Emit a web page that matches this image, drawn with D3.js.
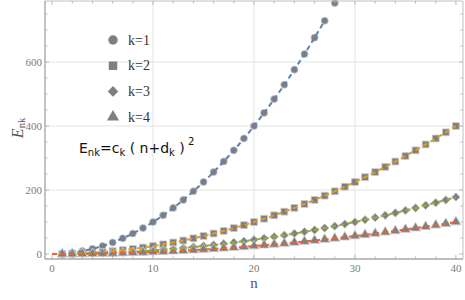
<!DOCTYPE html>
<html><head><meta charset="utf-8">
<script src="https://cdn.jsdelivr.net/npm/d3@7"></script>
<style>body{margin:0;background:#fff}svg{display:block}</style>
</head><body><svg id="c" width="465" height="300"></svg>
<script>
const nK1 = [1,2,3,4,5,6,7,8,9,10,11,12,13,14,15,16,17,18,19,20,21,22,23,24,25,26,27,28];
const eK1 = [1,4,9,16,25,36,49,64,81,100,121,144,169,196,225,256,289,324,361,400,441,484,529,576,625,676,729,784];
const nK = [1,2,3,4,5,6,7,8,9,10,11,12,13,14,15,16,17,18,19,20,21,22,23,24,25,26,27,28,29,30,31,32,33,34,35,36,37,38,39,40];
const eK2 = [0.25,1,2.25,4,6.25,9,12.25,16,20.25,25,30.25,36,42.25,49,56.25,64,72.25,81,90.25,100,110.25,121,132.25,144,156.25,169,182.25,196,210.25,225,240.25,256,272.25,289,306.25,324,342.25,361,380.25,400];
const eK3 = [0.11,0.44,1,1.78,2.78,4,5.44,7.11,9,11.11,13.44,16,18.78,21.78,25,28.44,32.11,36,40.11,44.44,49,53.78,58.78,64,69.44,75.11,81,87.11,93.44,100,106.78,113.78,121,128.44,136.11,144,152.11,160.44,169,177.78];
const eK4 = [0.06,0.25,0.56,1,1.56,2.25,3.06,4,5.06,6.25,7.56,9,10.56,12.25,14.06,16,18.06,20.25,22.56,25,27.56,30.25,33.06,36,39.06,42.25,45.56,49,52.56,56.25,60.06,64,68.06,72.25,76.56,81,85.56,90.25,95.06,100];
const fitC = [1, 0.25, 0.1111, 0.0625];
const fitD = [0, 0, 0, 0];
const fitMax = [27, 40, 40, 40];
const seriesNames = ["k=1","k=2","k=3","k=4"];
const xTicks = [0,10,20,30,40];
const yTicks = [0,200,400,600];

const colors = ["#5E81B5","#E19C24","#8FB032","#EB6235"];
const symbols = [d3.symbolCircle, d3.symbolSquare, d3.symbolSquare, d3.symbolTriangle];
const rotations = [0, 0, 45, 0];
const symSize = [40, 46, 36, 42];
const legSize = [70, 72, 56, 64];

const svg = d3.select("#c");
const L=45, R=463, T=1, B=259;
const x = d3.scaleLinear().domain([-0.7,40.7]).range([L,R]);
const y = d3.scaleLinear().domain([-15.6,790.6]).range([B,T]);

// grid
const g = svg.append("g");
[10,20,30].forEach(v=>g.append("line").attr("x1",x(v)).attr("x2",x(v)).attr("y1",T).attr("y2",B).attr("stroke","#e4e4e4").attr("stroke-width",1));
[200,400,600].forEach(v=>g.append("line").attr("y1",y(v)).attr("y2",y(v)).attr("x1",L).attr("x2",R).attr("stroke","#e4e4e4").attr("stroke-width",1));

// points
const data = [ [nK1,eK1],[nK,eK2],[nK,eK3],[nK,eK4] ];
data.forEach(([ns,es],i)=>{
  svg.append("g").selectAll("path").data(ns).join("path")
    .attr("d", d3.symbol(symbols[i], symSize[i]))
    .attr("transform",(n,j)=>`translate(${x(n)},${y(es[j])}) rotate(${rotations[i]})`)
    .attr("fill","#7f7f7f").attr("stroke","#c9c9c9").attr("stroke-width",0.8);
});

// fit lines
const line = d3.line().x(d=>x(d[0])).y(d=>y(d[1]));
fitC.forEach((c,i)=>{
  const pts = d3.range(0, fitMax[i]+0.001, 0.25).map(n=>[n, c*(n+fitD[i])**2]);
  svg.append("path").attr("d", line(pts)).attr("fill","none").attr("stroke",colors[i])
    .attr("stroke-width",2).attr("stroke-dasharray","5,3.5");
});

// frame
const fr = svg.append("g");
fr.append("line").attr("x1",L).attr("x2",R).attr("y1",T).attr("y2",T).attr("stroke","#c0c0c0").attr("stroke-width",1);
fr.append("line").attr("x1",R).attr("x2",R).attr("y1",T).attr("y2",B).attr("stroke","#c0c0c0").attr("stroke-width",1);
fr.append("line").attr("x1",L).attr("x2",R).attr("y1",B).attr("y2",B).attr("stroke","#a8a8a8").attr("stroke-width",1.4);
fr.append("line").attr("x1",L).attr("x2",L).attr("y1",T).attr("y2",B).attr("stroke","#a8a8a8").attr("stroke-width",1.4);

// ticks
const xMinor = d3.range(0,41,2).filter(v=>v%10!==0);
const yMinor = d3.range(0,791,50).filter(v=>v%200!==0);
const tk = svg.append("g").attr("stroke","#a8a8a8").attr("stroke-width",0.8);
xTicks.forEach(v=>{ tk.append("line").attr("x1",x(v)).attr("x2",x(v)).attr("y1",B).attr("y2",B-4);
  tk.append("line").attr("x1",x(v)).attr("x2",x(v)).attr("y1",T).attr("y2",T+4);});
xMinor.forEach(v=>{ tk.append("line").attr("x1",x(v)).attr("x2",x(v)).attr("y1",B).attr("y2",B-2.5);
  tk.append("line").attr("x1",x(v)).attr("x2",x(v)).attr("y1",T).attr("y2",T+2.5);});
yTicks.forEach(v=>{ tk.append("line").attr("y1",y(v)).attr("y2",y(v)).attr("x1",L).attr("x2",L+4);
  tk.append("line").attr("y1",y(v)).attr("y2",y(v)).attr("x1",R).attr("x2",R-4);});
yMinor.forEach(v=>{ tk.append("line").attr("y1",y(v)).attr("y2",y(v)).attr("x1",L).attr("x2",L+2.5);
  tk.append("line").attr("y1",y(v)).attr("y2",y(v)).attr("x1",R).attr("x2",R-2.5);});

// tick labels
const font = "'Liberation Serif','Times New Roman',serif";
svg.append("g").selectAll("text").data(xTicks).join("text")
  .attr("x",d=>x(d)).attr("y",272).attr("text-anchor","middle")
  .attr("font-family",font).attr("font-size",11).attr("fill","#7a7a7a").text(d=>d);
svg.append("g").selectAll("text").data(yTicks).join("text")
  .attr("x",42).attr("y",d=>y(d)+3.8).attr("text-anchor","end")
  .attr("font-family",font).attr("font-size",11).attr("fill","#7a7a7a").text(d=>d);

// axis labels
svg.append("text").attr("x",254).attr("y",288).attr("text-anchor","middle")
  .attr("font-family",font).attr("font-size",15).attr("fill","#555").text("n");
const yl = svg.append("text").attr("transform","translate(23,128) rotate(-90)").attr("text-anchor","middle")
  .attr("font-family",font).attr("font-size",16).attr("fill","#555");
yl.append("tspan").attr("font-style","italic").text("E");
yl.append("tspan").attr("font-size",10.5).attr("dy",2).text("nk");

// legend
const lg = svg.append("g");
seriesNames.forEach((s,i)=>{
  const yy = 40 + i*25.7;
  lg.append("path").attr("d", d3.symbol(symbols[i], legSize[i]))
    .attr("transform",`translate(113,${yy}) rotate(${rotations[i]})`).attr("fill","#7f7f7f");
  lg.append("text").attr("x",128).attr("y",yy+4.5).attr("font-family",font)
    .attr("font-size",14).attr("fill","#333").text(s);
});

// formula
const sans = "'DejaVu Sans','Noto Sans',sans-serif";
const f = svg.append("text").attr("x",79).attr("y",153).attr("font-family",sans).attr("font-size",14).attr("fill","#111");
f.append("tspan").text("E");
f.append("tspan").attr("font-size",10).attr("dy",3).text("nk");
f.append("tspan").attr("dy",-3).text("=c");
f.append("tspan").attr("font-size",10).attr("dy",3).text("k");
f.append("tspan").attr("dy",-3).text(" ( n+d");
f.append("tspan").attr("font-size",10).attr("dy",3).text("k");
f.append("tspan").attr("dy",-3).text(" )");
f.append("tspan").attr("font-size",10).attr("dy",-8).text(" 2");
</script></body></html>
